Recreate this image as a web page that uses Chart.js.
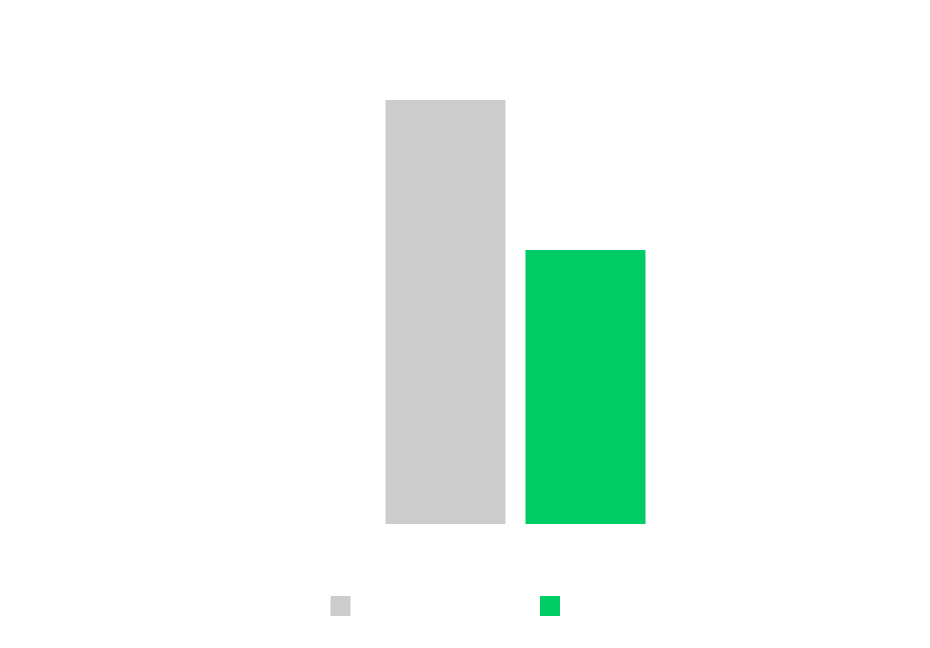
<!DOCTYPE html>
<html>
<head>
<meta charset="utf-8">
<script src="https://cdn.jsdelivr.net/npm/chart.js@4"></script>
<style>
  html, body { margin: 0; padding: 0; background: #ffffff; }
  #wrap { width: 930px; height: 648px; }
</style>
</head>
<body>
<div id="wrap"><canvas id="c" width="930" height="648"></canvas></div>
<script>
const categories = [""];
const seriesNames = ["Previous period: total sum of values", "Current period: total values"];
const previousValues = [100];
const currentValues = [64.6];
const seriesColors = ["#cccccc", "#00cc66"];

new Chart(document.getElementById('c'), {
  type: 'bar',
  data: {
    labels: categories,
    datasets: [
      { label: seriesNames[0], data: previousValues, backgroundColor: seriesColors[0], borderWidth: 0 },
      { label: seriesNames[1], data: currentValues, backgroundColor: seriesColors[1], borderWidth: 0 }
    ]
  },
  options: {
    responsive: false,
    animation: false,
    devicePixelRatio: 1,
    layout: { padding: { left: 101, right: 0, top: 100, bottom: 22 } },
    categoryPercentage: 280 / 829,
    barPercentage: 120 / 140,
    scales: {
      x: {
        display: true,
        grid: { display: false },
        border: { display: false },
        ticks: { display: false },
        afterFit: (s) => { s.height = 62; }
      },
      y: { display: false, min: 0, max: 100 }
    },
    plugins: {
      legend: {
        position: 'bottom',
        labels: {
          boxWidth: 20,
          boxHeight: 20,
          padding: 10,
          color: 'rgba(255,255,255,0)',
          font: { family: 'DejaVu Sans Mono', size: 8.1 }
        }
      },
      tooltip: { enabled: false }
    }
  }
});
</script>
</body>
</html>
